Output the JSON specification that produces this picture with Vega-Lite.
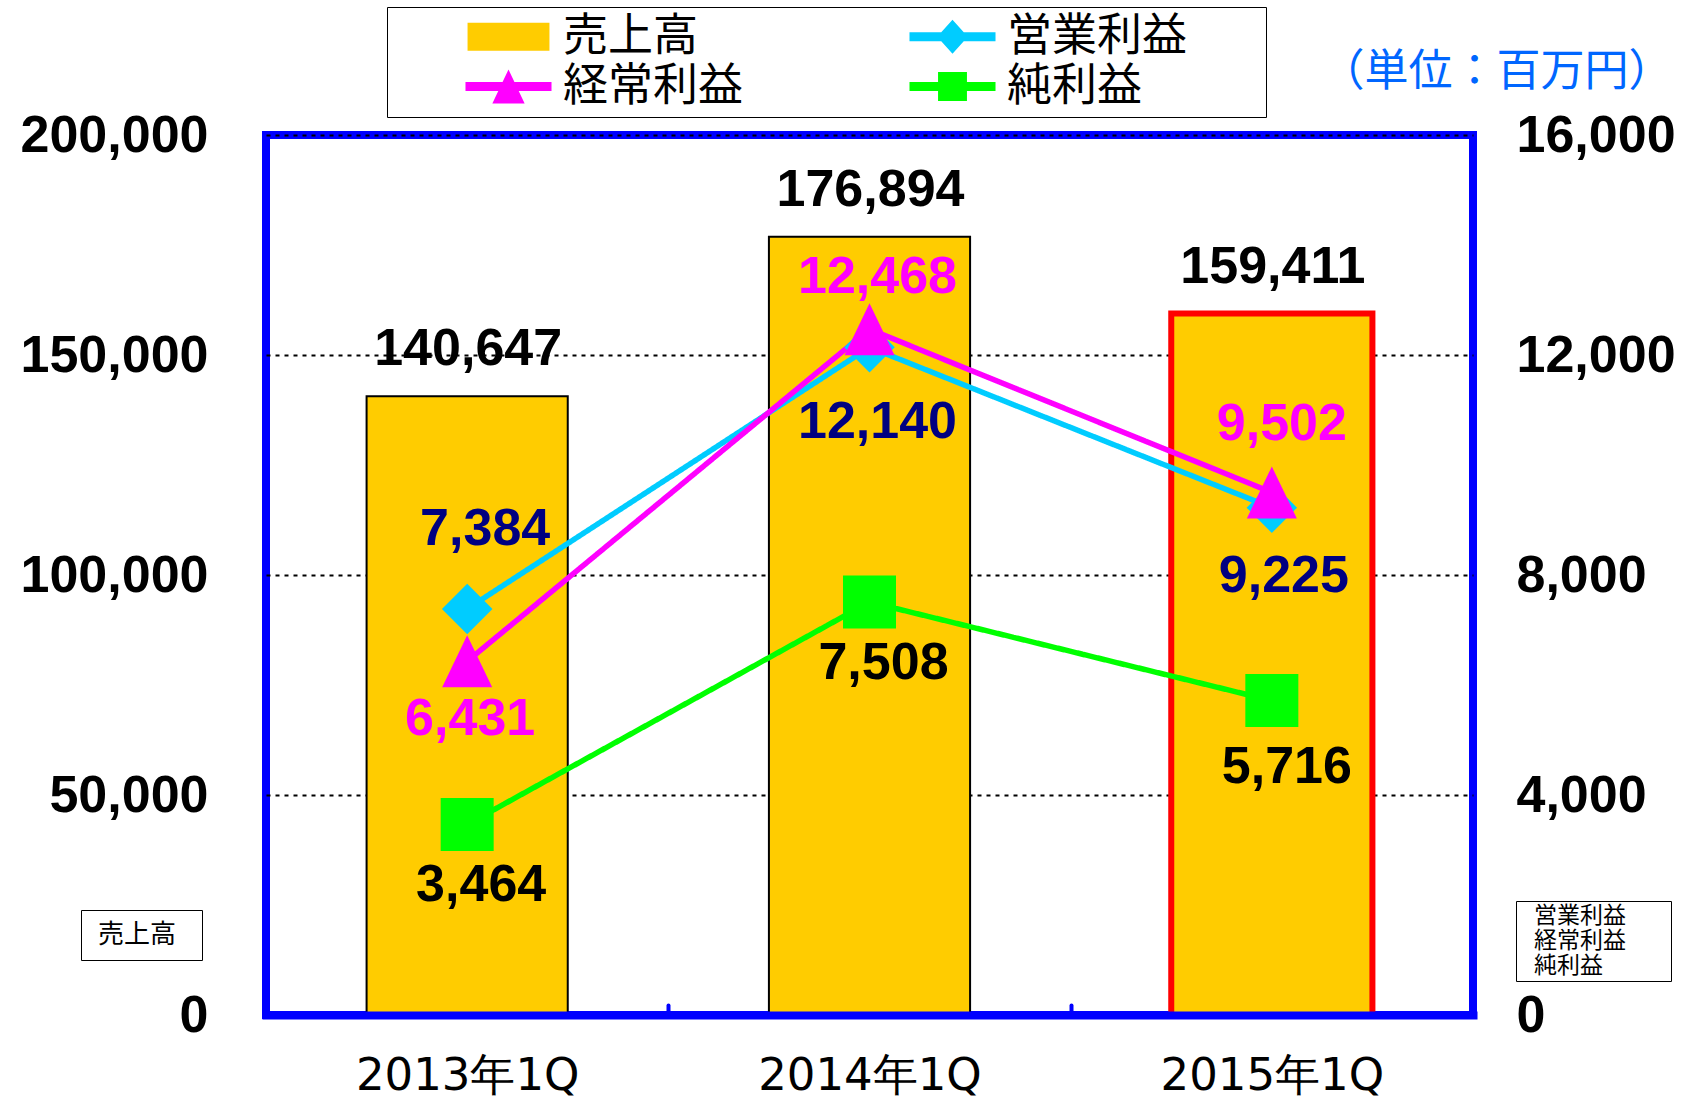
{
  "$schema": "https://vega.github.io/schema/vega-lite/v6.json",
  "width": 1207,
  "height": 880,
  "autosize": {"type": "none"},
  "padding": {"left": 266, "top": 135, "right": 213, "bottom": 85},
  "background": "white",
  "config": {
    "view": {"stroke": "#0000FF", "strokeWidth": 8},
    "legend": {"labelFont": "Noto Sans CJK JP", "labelColor": "black", "labelLimit": 500}
  },
  "data": {
    "values": [
      {"period": "2013年1Q", "series": "売上高", "value": 140647},
      {"period": "2014年1Q", "series": "売上高", "value": 176894},
      {"period": "2015年1Q", "series": "売上高", "value": 159411},
      {"period": "2013年1Q", "series": "営業利益", "value": 7384},
      {"period": "2014年1Q", "series": "営業利益", "value": 12140},
      {"period": "2015年1Q", "series": "営業利益", "value": 9225},
      {"period": "2013年1Q", "series": "経常利益", "value": 6431},
      {"period": "2014年1Q", "series": "経常利益", "value": 12468},
      {"period": "2015年1Q", "series": "経常利益", "value": 9502},
      {"period": "2013年1Q", "series": "純利益", "value": 3464},
      {"period": "2014年1Q", "series": "純利益", "value": 7508},
      {"period": "2015年1Q", "series": "純利益", "value": 5716}
    ]
  },
  "encoding": {
    "x": {
      "field": "period", "type": "nominal",
      "scale": {"paddingInner": 0, "paddingOuter": 0},
      "axis": {
        "title": null, "labelAngle": 0, "labelLimit": 600,
        "labelFont": "DejaVu Sans", "labelFontSize": 45, "labelColor": "black",
        "labelPadding": 48,
        "tickBand": "extent", "tickColor": "#0000FF", "tickWidth": 4, "tickSize": -10, "tickCap": "round",
        "domain": true, "domainColor": "#0000FF", "domainWidth": 8, "domainCap": "square",
        "grid": false, "zindex": 1
      }
    }
  },
  "layer": [
    {
      "transform": [{"filter": "datum.series === '売上高'"}],
      "encoding": {
        "y": {
          "field": "value", "type": "quantitative",
          "scale": {"domain": [0, 200000], "nice": false},
          "axis": {
            "title": null, "values": [0, 50000, 100000, 150000, 200000], "format": ",d", "labelLimit": 600,
            "labelFont": "Liberation Sans", "labelFontWeight": "bold", "labelFontSize": 52, "labelColor": "black",
            "labelPadding": 58, "ticks": false, "domain": false,
            "grid": true, "gridColor": "black", "gridDash": [4, 5], "gridWidth": 2
          }
        }
      },
      "layer": [
        {
          "mark": {"type": "bar", "width": {"band": 0.5}},
          "encoding": {
            "color": {
              "field": "series", "type": "nominal",
              "scale": {"domain": ["売上高", "営業利益", "経常利益", "純利益"], "range": ["#FFCC00", "#00CCFF", "#FF00FF", "#00FF00"]},
              "legend": {
                "orient": "none", "legendX": 121, "legendY": -128,
                "title": null, "direction": "horizontal", "columns": 2, "columnPadding": 94, "rowPadding": 4,
                "symbolSize": 1156, "symbolOffset": 92, "labelFontSize": 45, "labelOffset": 32,
                "symbolType": {"expr": "datum.value === '売上高' ? 'M-2.35,-0.76H2.35V0.76H-2.35Z' : datum.value === '営業利益' ? 'M-2.53,-0.26H2.53V0.26H-2.53ZM0,-1L0.9,0L0,1L-0.9,0ZM18,0L18,0.01Z' : datum.value === '経常利益' ? 'M-2.53,-0.26H2.53V0.26H-2.53ZM0,-1L0.95,1H-0.95Z' : 'M-2.53,-0.26H2.53V0.26H-2.53ZM-0.85,-0.85H0.85V0.85H-0.85ZM18,0L18,0.01Z'"},
                "symbolStrokeColor": {"expr": "datum.value === '売上高' ? 'black' : 'transparent'"},
                "symbolStrokeWidth": {"expr": "datum.value === '売上高' ? 2 : 0"},
                "padding": 7, "strokeColor": "black", "fillColor": "white"
              }
            },
            "stroke": {"condition": {"test": "datum.period === '2015年1Q'", "value": "#FF0000"}, "value": "#000000"},
            "strokeWidth": {"condition": {"test": "datum.period === '2015年1Q'", "value": 6}, "value": 2},
            "opacity": {
              "field": "series", "type": "nominal",
              "scale": {"domain": ["売上高"], "range": [1, 1]},
              "legend": {
                "orient": "none", "legendX": -185, "legendY": 775,
                "title": null, "symbolOpacity": 0, "symbolSize": 4,
                "symbolType": "M0,0L0,0.1ZM81,0L81,0.1Z",
                "labelFontSize": 26, "labelOffset": -21, "padding": 12,
                "strokeColor": "black", "fillColor": "white"
              }
            }
          }
        },
        {
          "mark": {"type": "text", "font": "Liberation Sans", "fontWeight": "bold", "fontSize": 52, "baseline": "middle", "dy": -47, "dx": 1, "color": "black"},
          "encoding": {
            "text": {"field": "value", "type": "quantitative", "format": ","}
          }
        }
      ]
    },
    {
      "transform": [{"filter": "datum.series !== '売上高'"}],
      "encoding": {
        "y": {
          "field": "value", "type": "quantitative",
          "scale": {"domain": [0, 16000], "nice": false},
          "axis": {
            "orient": "right", "values": [0, 4000, 8000, 12000, 16000], "format": ",d", "labelLimit": 600,
            "labelFont": "Liberation Sans", "labelFontWeight": "bold", "labelFontSize": 52, "labelColor": "black",
            "labelPadding": 43, "ticks": false, "domain": false, "grid": false,
            "title": "（単位：百万円）", "titleAngle": 0, "titleX": 199, "titleY": -63, "titleLimit": 600,
            "titleAlign": "right", "titleBaseline": "middle",
            "titleFont": "Noto Sans CJK JP", "titleFontSize": 44, "titleFontWeight": "normal", "titleColor": "#0066FF"
          }
        }
      },
      "layer": [
        {
          "mark": {"type": "line", "strokeWidth": 5.5},
          "encoding": {
            "color": {"field": "series", "type": "nominal", "legend": null},
            "strokeDash": {
              "field": "series", "type": "nominal",
              "sort": ["営業利益", "経常利益", "純利益"],
              "scale": {"range": [[1, 0], [1, 0], [1, 0]]},
              "legend": {
                "orient": "none", "legendX": 1250, "legendY": 766, "direction": "vertical",
                "title": null, "symbolOpacity": 0, "symbolSize": 4, "symbolStrokeWidth": 0,
                "symbolType": "M0,0L0,0.1ZM137,0L137,0.1Z",
                "labelFontSize": 23, "labelOffset": -8, "padding": 3, "rowPadding": 1,
                "strokeColor": "black", "fillColor": "white"
              }
            }
          }
        },
        {
          "mark": {"type": "point", "filled": true, "size": 2500, "opacity": 1},
          "encoding": {
            "color": {"field": "series", "type": "nominal", "legend": null},
            "shape": {
              "field": "series", "type": "nominal",
              "scale": {
                "domain": ["営業利益", "経常利益", "純利益"],
                "range": ["M0,-1.01L1.01,0L0,1.01L-1.01,0Z", "M0,-1.04L1,1.04H-1Z", "M-1.06,-1.06H1.06V1.06H-1.06Z"]
              },
              "legend": null
            }
          }
        },
        {
          "transform": [{"filter": "datum.series === '営業利益' && datum.period === '2013年1Q'"}],
          "mark": {"type": "text", "font": "Liberation Sans", "fontWeight": "bold", "fontSize": 52, "baseline": "middle", "color": "#000080", "dx": 18, "dy": -80},
          "encoding": {"text": {"field": "value", "type": "quantitative", "format": ","}}
        },
        {
          "transform": [{"filter": "datum.series === '営業利益' && datum.period === '2014年1Q'"}],
          "mark": {"type": "text", "font": "Liberation Sans", "fontWeight": "bold", "fontSize": 52, "baseline": "middle", "color": "#000080", "dx": 8, "dy": 75},
          "encoding": {"text": {"field": "value", "type": "quantitative", "format": ","}}
        },
        {
          "transform": [{"filter": "datum.series === '営業利益' && datum.period === '2015年1Q'"}],
          "mark": {"type": "text", "font": "Liberation Sans", "fontWeight": "bold", "fontSize": 52, "baseline": "middle", "color": "#000080", "dx": 12, "dy": 68},
          "encoding": {"text": {"field": "value", "type": "quantitative", "format": ","}}
        },
        {
          "transform": [{"filter": "datum.series === '経常利益' && datum.period === '2013年1Q'"}],
          "mark": {"type": "text", "font": "Liberation Sans", "fontWeight": "bold", "fontSize": 52, "baseline": "middle", "color": "#FF00FF", "dx": 3, "dy": 58},
          "encoding": {"text": {"field": "value", "type": "quantitative", "format": ","}}
        },
        {
          "transform": [{"filter": "datum.series === '経常利益' && datum.period === '2014年1Q'"}],
          "mark": {"type": "text", "font": "Liberation Sans", "fontWeight": "bold", "fontSize": 52, "baseline": "middle", "color": "#FF00FF", "dx": 8, "dy": -52},
          "encoding": {"text": {"field": "value", "type": "quantitative", "format": ","}}
        },
        {
          "transform": [{"filter": "datum.series === '経常利益' && datum.period === '2015年1Q'"}],
          "mark": {"type": "text", "font": "Liberation Sans", "fontWeight": "bold", "fontSize": 52, "baseline": "middle", "color": "#FF00FF", "dx": 10, "dy": -68},
          "encoding": {"text": {"field": "value", "type": "quantitative", "format": ","}}
        },
        {
          "transform": [{"filter": "datum.series === '純利益' && datum.period !== '2015年1Q'"}],
          "mark": {"type": "text", "font": "Liberation Sans", "fontWeight": "bold", "fontSize": 52, "baseline": "middle", "color": "black", "dx": 14, "dy": 61},
          "encoding": {"text": {"field": "value", "type": "quantitative", "format": ","}}
        },
        {
          "transform": [{"filter": "datum.series === '純利益' && datum.period === '2015年1Q'"}],
          "mark": {"type": "text", "font": "Liberation Sans", "fontWeight": "bold", "fontSize": 52, "baseline": "middle", "color": "black", "dx": 15, "dy": 66},
          "encoding": {"text": {"field": "value", "type": "quantitative", "format": ","}}
        }
      ]
    }
  ],
  "resolve": {"scale": {"y": "independent"}}
}
